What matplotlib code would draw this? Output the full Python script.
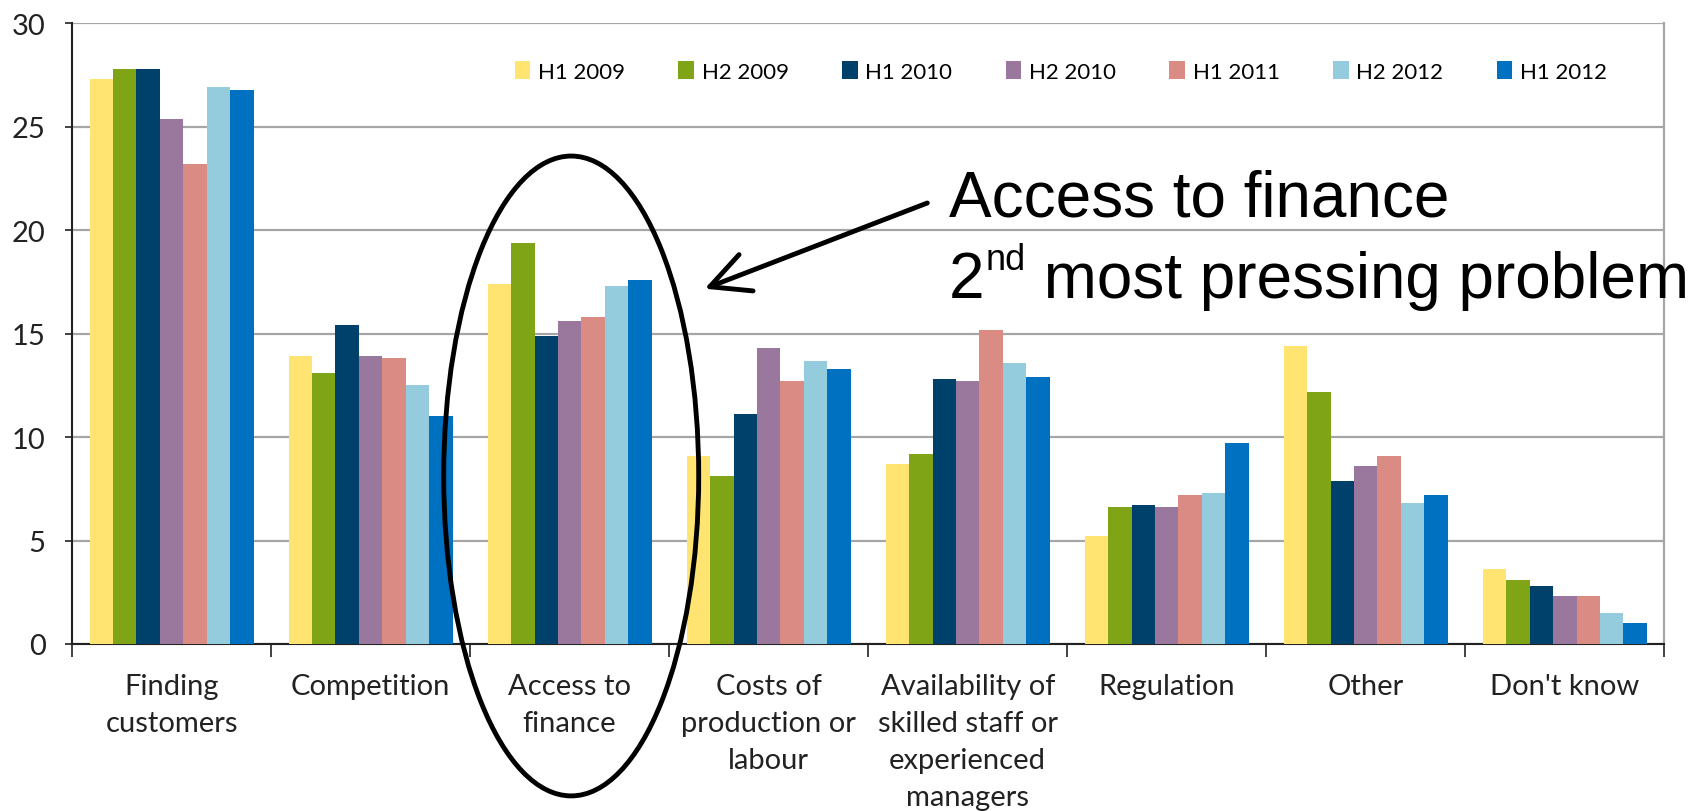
import matplotlib
matplotlib.use("Agg")
import matplotlib.pyplot as plt
import numpy as np
from matplotlib.patches import Ellipse, FancyArrowPatch

categories = [
    "Finding\ncustomers",
    "Competition",
    "Access to\nfinance",
    "Costs of\nproduction or\nlabour",
    "Availability of\nskilled staff or\nexperienced\nmanagers",
    "Regulation",
    "Other",
    "Don't know",
]
periods = ["H1 2009", "H2 2009", "H1 2010", "H2 2010", "H1 2011", "H2 2012", "H1 2012"]

h1_2009 = [27.3, 13.9, 17.4, 9.1, 8.7, 5.2, 14.4, 3.6]
h2_2009 = [27.8, 13.1, 19.4, 8.1, 9.2, 6.6, 12.2, 3.1]
h1_2010 = [27.8, 15.4, 14.9, 11.1, 12.8, 6.7, 7.9, 2.8]
h2_2010 = [25.4, 13.9, 15.6, 14.3, 12.7, 6.6, 8.6, 2.3]
h1_2011 = [23.2, 13.8, 15.8, 12.7, 15.2, 7.2, 9.1, 2.3]
h2_2012 = [26.9, 12.5, 17.3, 13.7, 13.6, 7.3, 6.8, 1.5]
h1_2012 = [26.8, 11.0, 17.6, 13.3, 12.9, 9.7, 7.2, 1.0]

series = [h1_2009, h2_2009, h1_2010, h2_2010, h1_2011, h2_2012, h1_2012]
colors = ["#FFE471", "#7FA517", "#00416C", "#9A789E", "#DA8C84", "#94CCDE", "#0070C0"]

plt.rcParams["font.family"] = ["Lato", "DejaVu Sans"]

fig = plt.figure(figsize=(17, 8.12), dpi=100)
ax = fig.add_axes([0.0424, 0.2057, 0.9366, 0.7643])

x = np.arange(len(categories))
group_width = 0.824
bar_w = group_width / len(series)
for i, (vals, col, name) in enumerate(zip(series, colors, periods)):
    offs = -group_width / 2 + bar_w * (i + 0.5)
    ax.bar(x + offs, vals, width=bar_w, color=col, label=name, zorder=3)

ax.set_xlim(-0.5, len(categories) - 0.5)
ax.set_ylim(0, 30)
ax.set_yticks(range(0, 31, 5))
ax.yaxis.grid(True, color="#A6A6A6", linewidth=1.6, zorder=0)
ax.set_axisbelow(True)

# category labels sit at the centres, tick marks at the group boundaries
ax.set_xticks(x)
ax.set_xticklabels(categories, fontsize=21, color="#222222", linespacing=1.52)
ax.set_xticks(np.arange(-0.5, len(categories)), minor=True)
ax.tick_params(axis="x", which="major", length=0, pad=21)
ax.tick_params(axis="x", which="minor", length=9, width=1.3, color="#333333")
ax.tick_params(axis="y", length=5, width=1.3, labelsize=21, color="#333333",
               labelcolor="#222222", pad=14)

for side in ("left", "bottom"):
    ax.spines[side].set_color("#222222")
    ax.spines[side].set_linewidth(1.5)
ax.spines["right"].set_color("#A6A6A6")
ax.spines["right"].set_linewidth(1.6)
ax.spines["top"].set_visible(False)

ax.legend(ncol=7, loc="center", bbox_to_anchor=(0.621, 0.922), frameon=False,
          fontsize=16, handlelength=0.7, handleheight=0.85, handletextpad=0.35,
          columnspacing=2.4, borderaxespad=0)

# callout: ellipse round the finance group plus arrow and note
fig.patches.append(Ellipse((0.336, 0.4126), 0.150, 0.788, transform=fig.transFigure,
                           fill=False, edgecolor="black", linewidth=3.5, zorder=10))
fig.add_artist(FancyArrowPatch(
    (0.547, 0.75), (0.413, 0.642), transform=fig.transFigure,
    arrowstyle="->,head_length=1.4,head_width=0.7", linewidth=3.5,
    color="black", mutation_scale=20))

note_font = ["Liberation Sans", "DejaVu Sans"]
note_x = 0.558
fig.text(note_x, 0.733, "Access to finance", fontsize=46, family=note_font,
         va="baseline")

# second line built from pieces so the ordinal suffix can be a small superscript
renderer = fig.canvas.get_renderer()
line2_y = 0.633
t_num = fig.text(note_x, line2_y, "2", fontsize=46, family=note_font, va="baseline")
x_next = t_num.get_window_extent(renderer).x1 / fig.bbox.width
t_sup = fig.text(x_next + 0.001, line2_y + 0.034, "nd", fontsize=26,
                 family=note_font, va="baseline")
x_next = t_sup.get_window_extent(renderer).x1 / fig.bbox.width
fig.text(x_next, line2_y, " most pressing problem", fontsize=46, family=note_font,
         va="baseline")

fig.savefig("out.png", dpi=100)
